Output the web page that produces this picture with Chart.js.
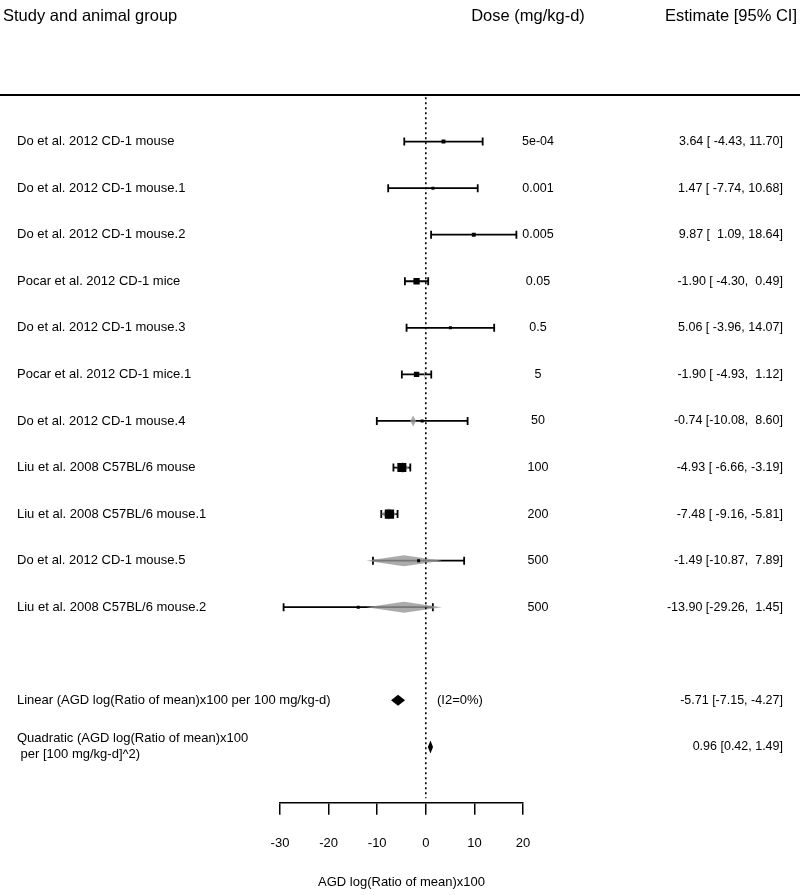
<!DOCTYPE html>
<html>
<head>
<meta charset="utf-8">
<script src="https://cdn.jsdelivr.net/npm/chart.js@4.4.0/dist/chart.umd.min.js"></script>
<style>
  html, body { margin: 0; padding: 0; background: #fff; }
  #wrap { width: 800px; height: 895px; }
</style>
</head>
<body>
<div id="wrap"><canvas id="forest" width="800" height="895"></canvas></div>
<script>
// one row per study / animal group
const studies = [
  'Do et al. 2012 CD-1 mouse',
  'Do et al. 2012 CD-1 mouse.1',
  'Do et al. 2012 CD-1 mouse.2',
  'Pocar et al. 2012 CD-1 mice',
  'Do et al. 2012 CD-1 mouse.3',
  'Pocar et al. 2012 CD-1 mice.1',
  'Do et al. 2012 CD-1 mouse.4',
  'Liu et al. 2008 C57BL/6 mouse',
  'Liu et al. 2008 C57BL/6 mouse.1',
  'Do et al. 2012 CD-1 mouse.5',
  'Liu et al. 2008 C57BL/6 mouse.2'
];
const doses = ['5e-04', '0.001', '0.005', '0.05', '0.5', '5', '50', '100', '200', '500', '500'];
const estimates = [3.64, 1.47, 9.87, -1.90, 5.06, -1.90, -0.74, -4.93, -7.48, -1.49, -13.90];
const lowerCI = [-4.43, -7.74, 1.09, -4.30, -3.96, -4.93, -10.08, -6.66, -9.16, -10.87, -29.26];
const upperCI = [11.70, 10.68, 18.64, 0.49, 14.07, 1.12, 8.60, -3.19, -5.81, 7.89, 1.45];
const weights = [1.3, 1, 1.3, 2.1, 1, 1.8, 1, 3.0, 3.1, 1, 1];
const estimateText = [
  '3.64 [ -4.43, 11.70]',
  '1.47 [ -7.74, 10.68]',
  '9.87 [  1.09, 18.64]',
  '-1.90 [ -4.30,  0.49]',
  '5.06 [ -3.96, 14.07]',
  '-1.90 [ -4.93,  1.12]',
  '-0.74 [-10.08,  8.60]',
  '-4.93 [ -6.66, -3.19]',
  '-7.48 [ -9.16, -5.81]',
  '-1.49 [-10.87,  7.89]',
  '-13.90 [-29.26,  1.45]'
];

// model-predicted effect at each dose (grey diamonds)
const predEst = [0, 0, 0, 0, -0.03, -0.28, -2.6, -4.75, -7.6, -4.5, -4.5];
const predLow = [0, 0, 0, 0, -0.05, -0.4, -3.2, -6.0, -9.2, -12.2, -12.2];
const predHigh = [0, 0, 0, 0, -0.01, -0.16, -2.0, -3.5, -6.0, 3.3, 3.3];

// pooled dose-response terms
const summaryLabels = [
  ['Linear (AGD log(Ratio of mean)x100 per 100 mg/kg-d)'],
  ['Quadratic (AGD log(Ratio of mean)x100', ' per [100 mg/kg-d]^2)']
];
const summaryEst = [-5.71, 0.96];
const summaryLow = [-7.15, 0.42];
const summaryHigh = [-4.27, 1.49];
const summaryText = ['-5.71 [-7.15, -4.27]', '0.96 [0.42, 1.49]'];
const heterogeneity = '(I2=0%)';

const xTicks = [-30, -20, -10, 0, 10, 20];
const axisTitle = 'AGD log(Ratio of mean)x100';

const summaryRows = [12, 13];
const FONT = '"Liberation Sans", Arial, Helvetica, sans-serif';

function diamond(ctx, xs, ys, lo, mid, hi, yv, half) {
  const y = ys.getPixelForValue(yv);
  ctx.beginPath();
  ctx.moveTo(xs.getPixelForValue(lo), y);
  ctx.lineTo(xs.getPixelForValue(mid), y - half);
  ctx.lineTo(xs.getPixelForValue(hi), y);
  ctx.lineTo(xs.getPixelForValue(mid), y + half);
  ctx.closePath();
  ctx.fill();
}

const forestPlugin = {
  id: 'forest',
  beforeDatasetsDraw(chart) {
    const { ctx, scales: { x, y } } = chart;
    ctx.save();
    // confidence intervals with end caps
    ctx.strokeStyle = '#000';
    ctx.lineWidth = 1.8;
    estimates.forEach((est, i) => {
      const py = y.getPixelForValue(i);
      const x1 = x.getPixelForValue(lowerCI[i]);
      const x2 = x.getPixelForValue(upperCI[i]);
      ctx.beginPath();
      ctx.moveTo(x1, py); ctx.lineTo(x2, py);
      ctx.moveTo(x1, py - 4); ctx.lineTo(x1, py + 4);
      ctx.moveTo(x2, py - 4); ctx.lineTo(x2, py + 4);
      ctx.stroke();
    });
    // predicted values
    ctx.fillStyle = 'rgba(150,150,150,0.8)';
    predEst.forEach((p, i) => {
      if (predHigh[i] - predLow[i] > 0.05) diamond(ctx, x, y, predLow[i], p, predHigh[i], i, 5.5);
    });
    // summary diamonds
    ctx.fillStyle = '#000';
    diamond(ctx, x, y, summaryLow[0], summaryEst[0], summaryHigh[0], summaryRows[0], 5.5);
    diamond(ctx, x, y, summaryLow[1], summaryEst[1], summaryHigh[1], summaryRows[1], 6.5);
    ctx.restore();
  },
  afterDraw(chart) {
    const { ctx, scales: { x, y } } = chart;
    ctx.save();
    ctx.fillStyle = '#000';
    ctx.textBaseline = 'middle';

    // header
    ctx.font = '16.5px ' + FONT;
    ctx.textAlign = 'left';
    ctx.fillText('Study and animal group', 3, 16);
    ctx.textAlign = 'center';
    ctx.fillText('Dose (mg/kg-d)', 528, 16);
    ctx.textAlign = 'right';
    ctx.fillText('Estimate [95% CI]', 797, 16);

    // rule under header
    const ly = y.getPixelForValue(-1);
    ctx.strokeStyle = '#000';
    ctx.lineWidth = 1.8;
    ctx.beginPath();
    ctx.moveTo(0, ly); ctx.lineTo(800, ly);
    ctx.stroke();

    studies.forEach((s, i) => {
      const py = y.getPixelForValue(i);
      ctx.font = '13px ' + FONT;
      ctx.textAlign = 'left';
      ctx.fillText(s, 17, py);
      ctx.font = '12.5px ' + FONT;
      ctx.textAlign = 'center';
      ctx.fillText(doses[i], 538, py);
      ctx.textAlign = 'right';
      ctx.fillText(estimateText[i], 783, py);
    });

    summaryLabels.forEach((lines, k) => {
      const py = y.getPixelForValue(summaryRows[k]);
      ctx.font = '13px ' + FONT;
      ctx.textAlign = 'left';
      if (lines.length === 1) {
        ctx.fillText(lines[0], 17, py);
      } else {
        ctx.fillText(lines[0], 17, py - 8);
        ctx.fillText(lines[1], 17, py + 8);
      }
      ctx.font = '12.5px ' + FONT;
      ctx.textAlign = 'right';
      ctx.fillText(summaryText[k], 783, py);
    });
    ctx.font = '13px ' + FONT;
    ctx.textAlign = 'left';
    ctx.fillText(heterogeneity, 437, y.getPixelForValue(summaryRows[0]));
    ctx.restore();
  }
};

new Chart(document.getElementById('forest'), {
  type: 'scatter',
  data: {
    datasets: [
      {
        label: 'zero',
        data: [{ x: 0, y: -0.95 }, { x: 0, y: 14.1 }],
        showLine: true,
        borderColor: '#000',
        borderWidth: 1.6,
        borderDash: [2, 3],
        pointRadius: 0
      },
      {
        label: 'estimates',
        data: estimates.map((e, i) => ({ x: e, y: i })),
        pointStyle: 'rect',
        pointRadius: weights.map(w => w * 3 / Math.SQRT2),
        backgroundColor: '#000',
        borderColor: '#000',
        borderWidth: 0
      }
    ]
  },
  options: {
    responsive: false,
    animation: false,
    layout: { padding: { left: 280, right: 277, top: 95, bottom: 0 } },
    plugins: {
      legend: { display: false },
      tooltip: { enabled: false }
    },
    scales: {
      x: {
        type: 'linear',
        min: xTicks[0],
        max: xTicks[xTicks.length - 1],
        afterBuildTicks: axis => { axis.ticks = xTicks.map(v => ({ value: v })); },
        grid: { drawOnChartArea: false, drawTicks: true, tickLength: 12, color: '#000', lineWidth: 1.5 },
        border: { display: true, color: '#000', width: 1.5 },
        ticks: { padding: 21, color: '#000', font: { size: 13, family: FONT }, maxRotation: 0 },
        title: {
          display: true,
          text: axisTitle,
          color: '#000',
          font: { size: 13, family: FONT },
          padding: { top: 2, bottom: 5 }
        }
      },
      y: {
        type: 'linear',
        display: false,
        reverse: true,
        min: -1,
        max: 14.2
      }
    }
  },
  plugins: [forestPlugin]
});
</script>
</body>
</html>
